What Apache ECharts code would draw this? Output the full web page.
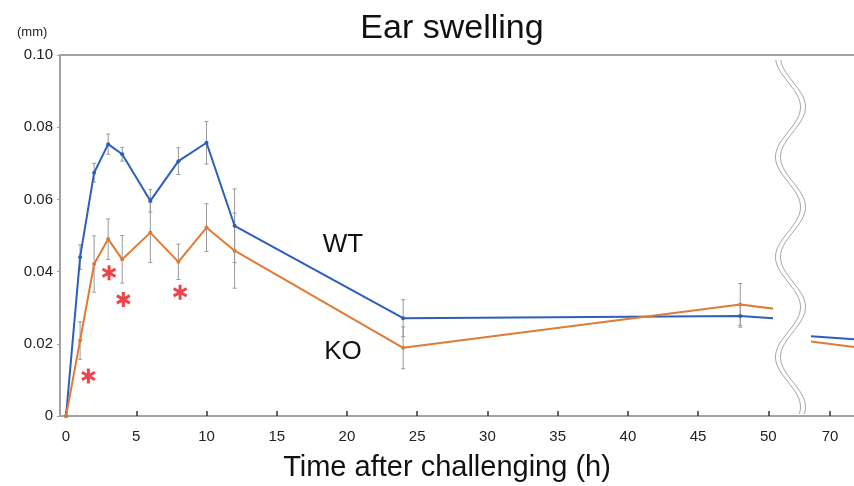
<!DOCTYPE html>
<html>
<head>
<meta charset="utf-8">
<title>Ear swelling</title>
<script src="https://cdn.jsdelivr.net/npm/echarts@6.0.0/dist/echarts.min.js"></script>
<style>
  html, body { margin: 0; padding: 0; background: #fff; }
  #chart { width: 854px; height: 486px; }
</style>
</head>
<body>
<div id="chart"></div>
<script>
// time points (h) and mean ear swelling (mm)
var hours = [0, 1, 2, 3, 4, 6, 8, 10, 12, 24, 48, 72];
var wtMean = [0, 0.0440, 0.0674, 0.0753, 0.0725, 0.0596, 0.0706, 0.0757, 0.0527, 0.0271, 0.0277, 0.0212];
var koMean = [0, 0.0209, 0.0421, 0.0490, 0.0434, 0.0508, 0.0427, 0.0522, 0.0458, 0.0189, 0.0309, 0.0190];
// error bar half-lengths
var wtErr = [0, 0.0034, 0.0026, 0.0028, 0.0019, 0.0031, 0.0037, 0.0059, 0.0102, 0.0051, 0.0031, 0];
var koErr = [0, 0.0052, 0.0078, 0.0056, 0.0066, 0.0083, 0.0049, 0.0066, 0.0104, 0.0058, 0.0058, 0];
// significance marks (x in h, y in mm)
var starX = [1.59, 3.06, 4.08, 8.12];
var starY = [0.0111, 0.0397, 0.0323, 0.0343];
// tick labels
var xTicksLeft = [0, 5, 10, 15, 20, 25, 30, 35, 40, 45, 50];
var xTicksRight = [70];

var BLUE = '#2d5fba';
var ORANGE = '#e07b36';
var FONT = 'Liberation Sans, Arial, sans-serif';

var chart = echarts.init(document.getElementById('chart'));

function pairs(xs, ys) {
  return xs.map(function (x, i) { return [x, ys[i]]; });
}
function errData(means, errs) {
  var out = [];
  hours.forEach(function (h, i) {
    if (errs[i] > 0) out.push([h, means[i], errs[i]]);
  });
  return out;
}
function renderErr(params, api) {
  var x = api.value(0), m = api.value(1), e = api.value(2);
  var top = api.coord([x, m + e]);
  var bot = api.coord([x, m - e]);
  var style = { stroke: '#9a9a9a', lineWidth: 1 };
  return {
    type: 'group',
    children: [
      { type: 'line', shape: { x1: top[0], y1: top[1], x2: bot[0], y2: bot[1] }, style: style },
      { type: 'line', shape: { x1: top[0] - 2, y1: top[1], x2: top[0] + 2, y2: top[1] }, style: style },
      { type: 'line', shape: { x1: bot[0] - 2, y1: bot[1], x2: bot[0] + 2, y2: bot[1] }, style: style }
    ]
  };
}

// wavy axis-break marks
function wave(dx) {
  var pts = [];
  for (var y = 60; y <= 414; y += 2) {
    pts.push([790.5 + dx + 12.5 * Math.sin(2 * Math.PI * (y - 82) / 100), y]);
  }
  return pts;
}

var starPath = 'path://M-1.6,-8L1.6,-8L1.6,8L-1.6,8Z' +
  'M-7.728,-2.614L-6.128,-5.386L7.728,2.614L6.128,5.386Z' +
  'M6.128,-5.386L7.728,-2.614L-6.128,5.386L-7.728,2.614Z';

var axisGray = '#a3a3a3';

var option = {
  animation: false,
  backgroundColor: '#fff',
  textStyle: { fontFamily: FONT },
  title: {
    text: 'Ear swelling',
    left: 447,
    top: 7,
    textAlign: 'center',
    textStyle: { fontFamily: FONT, fontSize: 34, fontWeight: 'normal', color: '#111' }
  },
  grid: [
    { left: 60, right: 0, top: 55, height: 361, outerBoundsMode: 'none' },   // frame
    { left: 60, width: 712, top: 55, height: 361, outerBoundsMode: 'none' }, // 0-50 h
    { left: 812, width: 42, top: 55, height: 361, outerBoundsMode: 'none' }  // after the break
  ],
  xAxis: [
    {
      gridIndex: 0, type: 'value', min: 0, max: 1,
      axisLine: { show: true, lineStyle: { color: axisGray, width: 2 } },
      axisTick: { show: false }, axisLabel: { show: false }, splitLine: { show: false },
      name: 'Time after challenging (h)',
      nameLocation: 'middle',
      nameGap: 37,
      nameTextStyle: { fontFamily: FONT, fontSize: 29, color: '#111', padding: [0, 0, 0, -20] }
    },
    {
      gridIndex: 0, type: 'value', min: 0, max: 1, position: 'top',
      axisLine: { show: true, lineStyle: { color: axisGray, width: 2 } },
      axisTick: { show: false }, axisLabel: { show: false }, splitLine: { show: false }
    },
    {
      gridIndex: 1, type: 'value', min: -0.43, max: 50.26,
      axisLine: { show: false },
      axisTick: { show: true, inside: true, length: 5, customValues: xTicksLeft, lineStyle: { color: '#333', width: 1.5 } },
      axisLabel: { customValues: xTicksLeft, fontSize: 15, color: '#222', margin: 13 },
      splitLine: { show: false }
    },
    {
      gridIndex: 2, type: 'value', min: 68.72, max: 71.71,
      axisLine: { show: false },
      axisTick: { show: true, inside: true, length: 5, customValues: xTicksRight, lineStyle: { color: '#333', width: 1.5 } },
      axisLabel: { customValues: xTicksRight, fontSize: 15, color: '#222', margin: 13 },
      splitLine: { show: false }
    }
  ],
  yAxis: [
    {
      gridIndex: 0, type: 'value', min: 0, max: 0.1, interval: 0.02,
      axisLine: { show: true, lineStyle: { color: axisGray, width: 2 } },
      axisTick: { show: true, length: 3, lineStyle: { color: axisGray } },
      axisLabel: {
        fontSize: 15, color: '#222', margin: 7,
        formatter: function (v) { return v === 0 ? '0' : v.toFixed(2); }
      },
      splitLine: { show: false }
    },
    { gridIndex: 1, type: 'value', min: 0, max: 0.1, show: false },
    { gridIndex: 2, type: 'value', min: 0, max: 0.1, show: false }
  ],
  series: [
    {
      type: 'custom', xAxisIndex: 2, yAxisIndex: 1, z: 1,
      renderItem: renderErr, data: errData(wtMean, wtErr)
    },
    {
      type: 'custom', xAxisIndex: 2, yAxisIndex: 1, z: 1,
      renderItem: renderErr, data: errData(koMean, koErr)
    },
    {
      name: 'WT', type: 'line', xAxisIndex: 2, yAxisIndex: 1, z: 3,
      data: pairs(hours, wtMean),
      symbol: 'circle', symbolSize: 4,
      itemStyle: { color: BLUE },
      lineStyle: { color: BLUE, width: 2 }
    },
    {
      name: 'KO', type: 'line', xAxisIndex: 2, yAxisIndex: 1, z: 3,
      data: pairs(hours, koMean),
      symbol: 'circle', symbolSize: 4,
      itemStyle: { color: ORANGE },
      lineStyle: { color: ORANGE, width: 2 }
    },
    {
      name: 'WT', type: 'line', xAxisIndex: 3, yAxisIndex: 2, z: 3,
      data: pairs(hours, wtMean), symbol: 'none',
      lineStyle: { color: BLUE, width: 2 }
    },
    {
      name: 'KO', type: 'line', xAxisIndex: 3, yAxisIndex: 2, z: 3,
      data: pairs(hours, koMean), symbol: 'none',
      lineStyle: { color: ORANGE, width: 2 }
    },
    {
      type: 'scatter', xAxisIndex: 2, yAxisIndex: 1, z: 4,
      data: pairs(starX, starY),
      symbol: starPath, symbolKeepAspect: true, symbolSize: 15,
      itemStyle: { color: '#e8151f' }
    }
  ],
  graphic: [
    { type: 'text', left: 17, top: 26, style: { text: '(mm)', font: '13px ' + FONT, fill: '#222' } },
    { type: 'text', x: 343, y: 245, style: { text: 'WT', font: '26px ' + FONT, fill: '#111', align: 'center', verticalAlign: 'middle' } },
    { type: 'text', x: 343, y: 352, style: { text: 'KO', font: '26px ' + FONT, fill: '#111', align: 'center', verticalAlign: 'middle' } },
    { type: 'polyline', z: 10, shape: { points: wave(-2.5) }, style: { stroke: '#a8a8a8', lineWidth: 1, fill: null } },
    { type: 'polyline', z: 10, shape: { points: wave(2.5) }, style: { stroke: '#a8a8a8', lineWidth: 1, fill: null } }
  ]
};

chart.setOption(option);
</script>
</body>
</html>
